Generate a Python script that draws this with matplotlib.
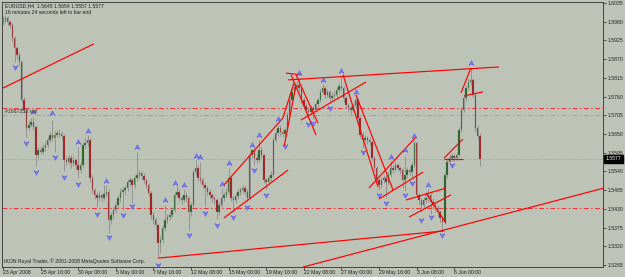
import matplotlib
matplotlib.use('Agg')
import matplotlib.pyplot as plt
import matplotlib.transforms as mtransforms
from matplotlib.path import Path
import numpy as np

plt.rcParams['font.family'] = ['Liberation Sans', 'DejaVu Sans']

# EURUSD H4 candles (open = previous close)
closes = [1.5985, 1.5991, 1.5979, 1.5971, 1.5932, 1.5903, 1.5882, 1.5862, 1.5750, 1.5721,
          1.5668, 1.5677, 1.5685, 1.5671, 1.5588, 1.5603, 1.5597, 1.5609, 1.5618, 1.5632,
          1.5647, 1.5638, 1.5647, 1.5653, 1.5650, 1.5644, 1.5574, 1.5568, 1.5579, 1.5565,
          1.5574, 1.5559, 1.5544, 1.5559, 1.5618, 1.5624, 1.5632, 1.5521, 1.5485, 1.5471,
          1.5462, 1.5471, 1.5462, 1.5474, 1.5480, 1.5397, 1.5412, 1.5427, 1.5441, 1.5462,
          1.5480, 1.5485, 1.5491, 1.5509, 1.5515, 1.5500, 1.5521, 1.5530, 1.5535, 1.5527,
          1.5515, 1.5500, 1.5477, 1.5412, 1.5397, 1.5382, 1.5330, 1.5338, 1.5374, 1.5397,
          1.5406, 1.5412, 1.5427, 1.5471, 1.5480, 1.5462, 1.5456, 1.5471, 1.5462, 1.5421,
          1.5441, 1.5538, 1.5550, 1.5521, 1.5515, 1.5500, 1.5491, 1.5480, 1.5471, 1.5462,
          1.5456, 1.5421, 1.5441, 1.5462, 1.5471, 1.5480, 1.5521, 1.5462, 1.5456, 1.5468,
          1.5480, 1.5485, 1.5491, 1.5480, 1.5462, 1.5588, 1.5603, 1.5579, 1.5574, 1.5603,
          1.5588, 1.5515, 1.5509, 1.5521, 1.5530, 1.5632, 1.5653, 1.5668, 1.5656, 1.5650,
          1.5662, 1.5706, 1.5750, 1.5774, 1.5788, 1.5794, 1.5785, 1.5750, 1.5732, 1.5721,
          1.5715, 1.5726, 1.5721, 1.5738, 1.5750, 1.5774, 1.5785, 1.5765, 1.5774, 1.5756,
          1.5762, 1.5765, 1.5779, 1.5791, 1.5785, 1.5756, 1.5735, 1.5726, 1.5721, 1.5732,
          1.5750, 1.5697, 1.5647, 1.5632, 1.5638, 1.5632, 1.5627, 1.5579, 1.5550, 1.5515,
          1.5500, 1.5515, 1.5521, 1.5509, 1.5530, 1.5550, 1.5544, 1.5559, 1.5550, 1.5544,
          1.5515, 1.5530, 1.5544, 1.5538, 1.5559, 1.5624, 1.5471, 1.5456, 1.5441, 1.5456,
          1.5462, 1.5471, 1.5450, 1.5441, 1.5432, 1.5421, 1.5403, 1.5391, 1.5530, 1.5568,
          1.5579, 1.5585, 1.5579, 1.5588, 1.5662, 1.5721, 1.5756, 1.5785, 1.5803, 1.5809,
          1.5765, 1.5668, 1.5645, 1.5577]
highs = [1.5997, 1.6000, 1.5996, 1.5985, 1.5975, 1.5938, 1.5910, 1.5890, 1.5868, 1.5758,
         1.5727, 1.5690, 1.5697, 1.5700, 1.5676, 1.5612, 1.5615, 1.5620, 1.5630, 1.5641,
         1.5655, 1.5691, 1.5660, 1.5662, 1.5665, 1.5660, 1.5650, 1.5585, 1.5590, 1.5588,
         1.5585, 1.5580, 1.5612, 1.5570, 1.5625, 1.5640, 1.5648, 1.5638, 1.5528, 1.5492,
         1.5480, 1.5482, 1.5478, 1.5500, 1.5500, 1.5488, 1.5420, 1.5435, 1.5450, 1.5470,
         1.5490, 1.5495, 1.5500, 1.5518, 1.5525, 1.5522, 1.5530, 1.5597, 1.5545, 1.5542,
         1.5535, 1.5522, 1.5505, 1.5482, 1.5420, 1.5405, 1.5388, 1.5350, 1.5382, 1.5440,
         1.5415, 1.5422, 1.5435, 1.5480, 1.5500, 1.5488, 1.5470, 1.5488, 1.5480, 1.5468,
         1.5450, 1.5545, 1.5575, 1.5560, 1.5568, 1.5525, 1.5510, 1.5498, 1.5488, 1.5478,
         1.5470, 1.5462, 1.5450, 1.5490, 1.5480, 1.5490, 1.5550, 1.5528, 1.5468, 1.5478,
         1.5490, 1.5495, 1.5500, 1.5498, 1.5488, 1.5595, 1.5605, 1.5610, 1.5590, 1.5632,
         1.5612, 1.5592, 1.5520, 1.5530, 1.5540, 1.5640, 1.5662, 1.5680, 1.5675, 1.5665,
         1.5672, 1.5715, 1.5758, 1.5790, 1.5800, 1.5806, 1.5815, 1.5792, 1.5758, 1.5740,
         1.5728, 1.5735, 1.5732, 1.5745, 1.5758, 1.5782, 1.5797, 1.5792, 1.5782, 1.5780,
         1.5772, 1.5775, 1.5788, 1.5800, 1.5818, 1.5792, 1.5762, 1.5742, 1.5735, 1.5742,
         1.5760, 1.5756, 1.5702, 1.5655, 1.5648, 1.5645, 1.5640, 1.5632, 1.5585, 1.5556,
         1.5520, 1.5525, 1.5530, 1.5528, 1.5540, 1.5570, 1.5560, 1.5568, 1.5565, 1.5556,
         1.5550, 1.5585, 1.5552, 1.5555, 1.5568, 1.5632, 1.5628, 1.5478, 1.5462, 1.5465,
         1.5475, 1.5488, 1.5478, 1.5462, 1.5450, 1.5440, 1.5428, 1.5410, 1.5538, 1.5580,
         1.5590, 1.5595, 1.5592, 1.5598, 1.5670, 1.5730, 1.5765, 1.5795, 1.5812, 1.5842,
         1.5815, 1.5770, 1.5675, 1.5654]
lows = [1.5970, 1.5976, 1.5968, 1.5962, 1.5924, 1.5862, 1.5870, 1.5850, 1.5740, 1.5712,
        1.5640, 1.5660, 1.5670, 1.5662, 1.5555, 1.5580, 1.5590, 1.5592, 1.5600, 1.5610,
        1.5625, 1.5630, 1.5598, 1.5640, 1.5642, 1.5635, 1.5542, 1.5558, 1.5560, 1.5550,
        1.5555, 1.5548, 1.5520, 1.5535, 1.5552, 1.5610, 1.5615, 1.5510, 1.5476, 1.5460,
        1.5435, 1.5452, 1.5450, 1.5455, 1.5468, 1.5359, 1.5385, 1.5400, 1.5418, 1.5432,
        1.5450, 1.5428, 1.5470, 1.5482, 1.5498, 1.5448, 1.5492, 1.5512, 1.5520, 1.5518,
        1.5505, 1.5490, 1.5468, 1.5400, 1.5385, 1.5370, 1.5288, 1.5300, 1.5330, 1.5365,
        1.5388, 1.5398, 1.5405, 1.5420, 1.5465, 1.5452, 1.5445, 1.5450, 1.5450, 1.5368,
        1.5410, 1.5435, 1.5530, 1.5512, 1.5505, 1.5490, 1.5438, 1.5470, 1.5460, 1.5450,
        1.5445, 1.5400, 1.5412, 1.5435, 1.5452, 1.5465, 1.5475, 1.5452, 1.5420, 1.5448,
        1.5460, 1.5472, 1.5478, 1.5470, 1.5450, 1.5455, 1.5580, 1.5560, 1.5565, 1.5568,
        1.5580, 1.5505, 1.5488, 1.5500, 1.5512, 1.5525, 1.5625, 1.5645, 1.5645, 1.5640,
        1.5630, 1.5655, 1.5700, 1.5742, 1.5765, 1.5778, 1.5775, 1.5740, 1.5722, 1.5712,
        1.5695, 1.5705, 1.5695, 1.5715, 1.5730, 1.5745, 1.5768, 1.5755, 1.5758, 1.5742,
        1.5748, 1.5752, 1.5758, 1.5770, 1.5778, 1.5745, 1.5725, 1.5715, 1.5710, 1.5715,
        1.5725, 1.5688, 1.5638, 1.5610, 1.5625, 1.5620, 1.5618, 1.5570, 1.5540, 1.5505,
        1.5485, 1.5490, 1.5505, 1.5462, 1.5500, 1.5525, 1.5535, 1.5540, 1.5540, 1.5532,
        1.5490, 1.5482, 1.5522, 1.5528, 1.5520, 1.5552, 1.5462, 1.5440, 1.5420, 1.5432,
        1.5448, 1.5450, 1.5415, 1.5430, 1.5420, 1.5410, 1.5390, 1.5362, 1.5385, 1.5522,
        1.5565, 1.5570, 1.5570, 1.5575, 1.5582, 1.5655, 1.5715, 1.5748, 1.5778, 1.5795,
        1.5758, 1.5660, 1.5635, 1.5557]
first_open = 1.5979
opens = [first_open] + closes[:-1]

# fractal arrows (bar index, price of the arrow)
up_bar = [13, 21, 32, 36, 44, 57, 69, 73, 77, 82, 84, 93, 96, 106, 109, 117, 126, 136, 144, 150, 165, 171, 175, 181, 199]
up_px = [1.5715, 1.5712, 1.5627, 1.5659, 1.5512, 1.5612, 1.5456, 1.5506, 1.5500, 1.5585, 1.5582, 1.5503, 1.5565,
         1.5618, 1.5647, 1.5694, 1.5829, 1.5809, 1.5835, 1.5774, 1.5582, 1.5603, 1.5644, 1.5500, 1.5859]
dn_bar = [5, 10, 14, 22, 26, 32, 40, 45, 51, 55, 66, 79, 86, 91, 98, 104, 107, 112, 120, 130, 132, 139, 153,
          160, 163, 171, 174, 178, 182, 187, 191]
dn_px = [1.5847, 1.5624, 1.5538, 1.5582, 1.5524, 1.5503, 1.5415, 1.5347, 1.5412, 1.5438, 1.5265, 1.5353, 1.5418,
         1.5382, 1.5406, 1.5435, 1.5544, 1.5471, 1.5615, 1.5679, 1.5682, 1.5726, 1.5597, 1.5471, 1.5447, 1.5471,
         1.5506, 1.5397, 1.5406, 1.5353, 1.5559]

# hand drawn trend lines: (bar1, price1, bar2, price2)
trend_lines = [(0, 1.5785, 38.7, 1.5915),
               (66, 1.5285, 187.7, 1.5365),
               (127.7, 1.5259, 255.7, 1.5491),
               (121.3, 1.5809, 211, 1.5847),
               (94, 1.5500, 119.1, 1.5697),
               (119.1, 1.5697, 123.8, 1.5800),
               (94, 1.5403, 121.3, 1.5544),
               (119.6, 1.5612, 124.7, 1.5794),
               (120.4, 1.5829, 126.8, 1.5824),
               (122.6, 1.5824, 133.2, 1.5647),
               (124.7, 1.5824, 134, 1.5682),
               (126.8, 1.5691, 154.5, 1.5803),
               (144.7, 1.5824, 159.6, 1.5494),
               (150.2, 1.5765, 166, 1.5485),
               (155.7, 1.5491, 175.7, 1.5641),
               (160, 1.5459, 178.7, 1.5538),
               (171.5, 1.5456, 188.5, 1.5491),
               (172.8, 1.5406, 190.6, 1.5471),
               (180, 1.5477, 188.5, 1.5388),
               (187.7, 1.5579, 195.7, 1.5635),
               (187.7, 1.5577, 195.7, 1.5577),
               (194.9, 1.5771, 199.1, 1.5844),
               (196.2, 1.5762, 204.3, 1.5774)]

red_levels = [1.5726, 1.5432]
green_level = 1.5706
order_label = '#1667353 sell'

y_ticks = [1.5265, 1.5320, 1.5375, 1.5430, 1.5485, 1.5540, 1.5595, 1.5650,
           1.5705, 1.5760, 1.5815, 1.5870, 1.5925, 1.5980, 1.6035]
x_tick_bars = [0, 16, 32, 48, 64, 80, 96, 112, 128, 144, 160, 176, 192]
x_tick_labels = ['23 Apr 2008', '25 Apr 16:00', '30 Apr 08:00', '5 May 00:00', '7 May 16:00',
                 '12 May 08:00', '15 May 00:00', '19 May 16:00', '22 May 08:00', '27 May 00:00',
                 '29 May 16:00', '3 Jun 08:00', '6 Jun 00:00']

bg = '#bdc3b7'
fs = 3.7

fig = plt.figure(figsize=(6.25, 2.77), dpi=100, facecolor=bg)
ax = fig.add_axes([2 / 625, 10 / 277, 601 / 625, 265 / 277], facecolor=bg)

bars = np.arange(len(closes))
o = np.array(opens)
c = np.array(closes)
bull = c >= o

# wicks then bodies
ax.vlines(bars, lows, highs, colors='#8c8c8c', lw=0.6, zorder=2)
ax.bar(bars[bull], (c - o)[bull], bottom=o[bull], width=0.62, color='#17601a',
       edgecolor='#909090', linewidth=0.25, zorder=3)
ax.bar(bars[~bull], (o - c)[~bull], bottom=c[~bull], width=0.62, color='#a31212',
       edgecolor='#909090', linewidth=0.25, zorder=3)

# fractal arrows
arr_up = Path([(0, 1), (0.9, -0.7), (0, -0.2), (-0.9, -0.7), (0, 1)],
              [Path.MOVETO, Path.LINETO, Path.LINETO, Path.LINETO, Path.CLOSEPOLY])
arr_dn = Path([(0, -1), (0.9, 0.7), (0, 0.2), (-0.9, 0.7), (0, -1)],
              [Path.MOVETO, Path.LINETO, Path.LINETO, Path.LINETO, Path.CLOSEPOLY])
ax.plot(up_bar, up_px, ls='none', marker=arr_up, ms=4, mfc='#7a7aff', mec='#4646d8', mew=0.3, zorder=5)
ax.plot(dn_bar, dn_px, ls='none', marker=arr_dn, ms=4, mfc='#7a7aff', mec='#4646d8', mew=0.3, zorder=5)

# levels
for lv in red_levels:
    ax.axhline(lv, color='#f03030', lw=0.7, ls=(0, (5, 2.5, 1.5, 2.5)), zorder=1)
ax.axhline(green_level, color='#70c470', lw=0.7, ls=(0, (5, 2.5, 1.5, 2.5)), zorder=1)
ax.axhline(closes[-1], color='#9898b0', lw=0.6, ls=(0, (1, 1.5)), zorder=1)

for x1, p1, x2, p2 in trend_lines:
    ax.plot([x1, x2], [p1, p2], color='#ff0000', lw=0.85, solid_capstyle='butt', zorder=4)

ax.text(1, 1.5715, order_label, fontsize=fs, color='#303030', va='center', ha='left', zorder=6)

ax.set_xlim(-0.4, 255.3)
ax.set_ylim(1.5259, 1.6038)

ax.yaxis.tick_right()
ax.set_yticks(y_ticks)
ax.set_yticklabels(['%.4f' % v for v in y_ticks])
ax.tick_params(axis='y', length=2, width=0.5, pad=1.5, labelsize=fs, colors='#202020')
ax.set_xticks(x_tick_bars)
ax.set_xticklabels(x_tick_labels, ha='left')
ax.tick_params(axis='x', length=2, width=0.5, pad=0.5, labelsize=fs, colors='#202020')
for s in ax.spines.values():
    s.set_linewidth(0.6)
    s.set_color('#303030')

# current price box on the price scale
trans = mtransforms.blended_transform_factory(ax.transAxes, ax.transData)
ax.text(1.004, closes[-1], '%.4f' % closes[-1], transform=trans, fontsize=fs, color='white',
        va='center', ha='left', bbox=dict(boxstyle='square,pad=0.3', fc='black', ec='black'), zorder=7)

fig.text(5 / 625, 1 - 6 / 277, 'EURUSD,H4  %.4f %.4f %.4f %.4f' % (opens[-1], highs[-1], lows[-1], closes[-1]),
         fontsize=fs, va='center', color='#202020')
fig.text(5 / 625, 1 - 13 / 277, '16 minutes 24 seconds left to bar end', fontsize=fs, va='center', color='#202020')
fig.text(4 / 625, 1 - 261 / 277, 'IKON Royal Trader, \u00a9 2001-2008 MetaQuotes Software Corp.',
         fontsize=fs, va='center', color='#202020')

fig.savefig('out.png', dpi=100, facecolor=bg)
